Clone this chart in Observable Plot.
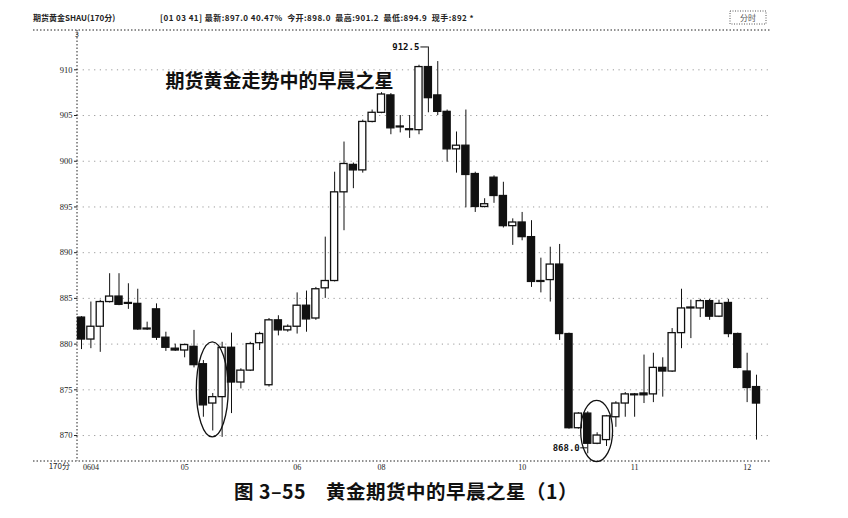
<!DOCTYPE html>
<html>
<head>
<meta charset="utf-8">
<script src="https://cdn.jsdelivr.net/npm/d3@7"></script>
<script src="https://cdn.jsdelivr.net/npm/@observablehq/plot@0.6"></script>
<style>
  html, body { margin: 0; padding: 0; background: #fff; }
  body { width: 848px; height: 518px; overflow: hidden; position: relative; font-family: "Noto Sans CJK SC", sans-serif; }
  #chart { position: absolute; left: 0; top: 0; }
  #cap { position: absolute; left: 234px; top: 476px; font-size: 19.5px; font-weight: bold; color: #111; white-space: pre; letter-spacing: 0.5px; font-family: "Noto Sans CJK SC", sans-serif; }
</style>
</head>
<body>
<div id="chart"></div>
<div id="cap">图 3–55　黄金期货中的早晨之星（1）</div>
<script>
// ---- data ----
const opens  = [882.9,880.5,881.9,884.6,885.2,884.5,884.4,881.7,883.8,880.7,879.5,879.3,879.7,877.8,873.5,874.2,879.6,875.8,877.1,880.1,875.5,882.6,881.5,881.9,884.2,882.8,886.1,886.9,896.6,899.6,899.0,904.3,905.3,907.2,903.8,903.5,903.4,910.3,907.2,905.4,901.3,901.7,898.6,895.0,898.2,896.2,892.9,893.3,891.7,886.9,887.0,888.7,881.1,870.8,872.4,869.1,869.5,872.0,873.5,874.5,874.6,874.5,877.4,877.0,881.2,884.0,883.9,884.7,883.0,884.5,881.1,877.0,875.3];
const highs  = [883.0,884.6,884.8,887.7,887.7,886.6,886.0,882.4,884.4,881.3,880.0,880.0,881.5,878.2,874.6,880.2,881.2,877.3,880.2,881.3,882.8,883.1,882.1,885.6,885.8,886.2,891.7,898.8,902.1,899.8,904.5,905.6,907.5,907.4,905.0,905.0,910.5,912.5,910.9,905.6,903.2,905.6,898.8,895.9,898.4,897.7,893.7,894.4,893.5,889.4,890.6,890.9,881.2,872.5,872.6,870.3,872.2,873.7,874.7,874.6,878.8,879.0,878.5,881.7,886.0,884.8,884.9,884.9,884.8,884.9,881.2,879.0,876.6];
const lows   = [879.4,879.5,879.1,884.5,884.2,883.8,881.5,881.5,880.4,879.2,879.2,878.5,877.4,872.0,870.5,869.8,872.4,875.1,877.0,879.3,875.3,880.9,881.3,881.1,881.3,882.6,885.0,886.8,892.4,897.0,898.7,904.2,905.2,902.9,903.1,902.5,902.9,905.3,905.0,899.9,898.7,894.9,894.4,894.9,895.4,892.7,890.8,891.3,886.2,885.6,884.6,880.4,870.7,870.7,868.0,869.0,868.8,870.9,872.0,872.0,873.5,873.6,874.2,876.9,879.5,880.6,882.9,882.6,882.9,880.7,877.3,873.6,869.5];
const closes = [880.5,881.9,884.6,885.2,884.3,884.4,881.6,881.6,880.7,879.6,879.3,879.9,877.7,873.3,874.2,879.6,875.8,877.1,880.0,881.1,882.6,881.5,881.9,884.2,882.7,886.0,886.9,896.6,899.7,899.0,904.3,905.3,907.3,903.6,903.7,903.4,910.3,906.9,905.4,901.3,901.7,898.5,895.0,895.3,896.2,892.9,893.3,891.7,886.8,886.8,888.7,881.1,870.8,872.4,869.1,870.0,872.1,873.5,874.5,874.4,874.4,877.4,877.0,881.2,883.9,883.9,884.7,883.0,884.4,881.1,877.4,875.2,873.5];

const yTicks = [870, 875, 880, 885, 890, 895, 900, 905, 910];
const xTickIndex = [1, 11, 23, 32, 47, 59, 71];
const xTickLabels = ["0604", "05", "06", "08", "10", "11", "12"];

const highMarkIndex = [37];   // 912.5
const lowMarkIndex = [54];    // 868.0

// morning-star patterns (candle index ranges and price span of the circled area)
const starFrom = [13, 54];
const starTo = [15, 56];
const starLow = [869.8, 867.1];
const starHigh = [880.2, 873.8];

const titleText = "期货黄金走势中的早晨之星";
const headerLeft = "期货黄金SHAU(170分)";
const headerMid = "[01 03 41] 最新:897.0 40.47%  今开:898.0  最高:901.2  最低:894.9  现手:892 *";
const periodLabel = "170分";

const idx = d3.range(opens.length);

// ---- custom marks ----
function decorations(index, scales, values, dims) {
  const g = d3.create("svg:g");
  const top = dims.marginTop, bottom = dims.height - dims.marginBottom;
  const left = dims.marginLeft, right = dims.width - dims.marginRight;
  g.append("line").attr("x1", 33).attr("x2", right + 2).attr("y1", top).attr("y2", top)
    .attr("stroke", "#222").attr("stroke-width", 1).attr("stroke-dasharray", "1.5 2");
  g.append("line").attr("x1", 33).attr("x2", right + 2).attr("y1", bottom).attr("y2", bottom)
    .attr("stroke", "#222").attr("stroke-width", 1).attr("stroke-dasharray", "1.5 2");
  g.append("line").attr("x1", left).attr("x2", left).attr("y1", top).attr("y2", bottom)
    .attr("stroke", "#222").attr("stroke-width", 1).attr("stroke-dasharray", "1.5 2");
  const t = g.append("g").attr("font-family", "Noto Sans CJK SC, sans-serif").attr("fill", "#222").attr("text-anchor", "start");
  t.append("text").attr("x", 33).attr("y", top - 9).attr("font-size", 8).attr("font-weight", "bold").attr("text-anchor", "start").text(headerLeft);
  t.append("text").attr("x", 160).attr("y", top - 9).attr("font-size", 8).attr("font-weight", "bold").attr("letter-spacing", "0.45px").attr("text-anchor", "start").text(headerMid);
  t.append("text").attr("x", left - 7).attr("y", bottom + 8).attr("font-size", 8).attr("text-anchor", "end").text(periodLabel);
  t.append("text").attr("x", left).attr("y", top + 7).attr("font-size", 7).attr("text-anchor", "middle").text("3");
  g.append("rect").attr("x", right - 38).attr("y", top - 19).attr("width", 36).attr("height", 13)
    .attr("fill", "none").attr("stroke", "#555").attr("stroke-dasharray", "1 1.5");
  t.append("text").attr("x", right - 20).attr("y", top - 9).attr("font-size", 8).attr("text-anchor", "middle").attr("fill", "#555").text("分时");
  return g.node();
}

function starEllipses(index, scales) {
  const g = d3.create("svg:g");
  for (let k = 0; k < starFrom.length; k++) {
    const x1 = scales.x(starFrom[k] - 0.7), x2 = scales.x(starTo[k] + 0.7);
    const y1 = scales.y(starHigh[k]), y2 = scales.y(starLow[k]);
    g.append("ellipse")
      .attr("cx", (x1 + x2) / 2).attr("cy", (y1 + y2) / 2)
      .attr("rx", Math.abs(x2 - x1) / 2).attr("ry", Math.abs(y2 - y1) / 2)
      .attr("fill", "none").attr("stroke", "#111").attr("stroke-width", 1.3);
  }
  return g.node();
}

const chart = Plot.plot({
  width: 848,
  height: 478,
  marginLeft: 77,
  marginRight: 80,
  marginTop: 30,
  marginBottom: 17,
  x: { domain: [-0.427, 73.28], axis: null },
  y: { domain: [867.16, 914.3], axis: null },
  color: { type: "identity" },
  style: { background: "white", overflow: "visible" },
  marks: [
    Plot.gridY(yTicks, { stroke: "#888", strokeOpacity: 0.85, strokeWidth: 1, strokeDasharray: "1.2 4.5" }),
    Plot.axisY(yTicks, { anchor: "left", tickSize: 3, tickPadding: 2, fontSize: 8.5, fontFamily: "Liberation Serif, serif", fill: "#222", color: "#222" }),
    Plot.axisX(xTickIndex, { anchor: "bottom", tickSize: 0, tickPadding: 3, fontSize: 8, fontFamily: "Liberation Serif, serif", fill: "#222",
      tickFormat: (d) => xTickLabels[xTickIndex.indexOf(d)] }),
    decorations,
    Plot.ruleX(idx, { x: (i) => i, y1: (i) => lows[i], y2: (i) => highs[i], stroke: "#111", strokeWidth: 1 }),
    Plot.rect(idx, {
      x1: (i) => i - 0.38, x2: (i) => i + 0.38,
      y1: (i) => opens[i], y2: (i) => closes[i],
      fill: (i) => (closes[i] > opens[i] ? "white" : "#111"),
      stroke: "#111", strokeWidth: 1.3
    }),
    Plot.ruleY(highMarkIndex, { x1: (i) => i - 0.8, x2: (i) => i, y: (i) => highs[i], stroke: "#111" }),
    Plot.text(highMarkIndex, { x: (i) => i, y: (i) => highs[i], text: (i) => highs[i].toFixed(1), textAnchor: "end", dx: -9, fontSize: 9, fontWeight: "bold", fontFamily: "DejaVu Sans Mono, monospace", fill: "#111" }),
    Plot.ruleY(lowMarkIndex, { x1: (i) => i - 0.75, x2: (i) => i, y: (i) => lows[i], dy: -6, stroke: "#111" }),
    Plot.text(lowMarkIndex, { x: (i) => i, y: (i) => lows[i], text: (i) => lows[i].toFixed(1), textAnchor: "end", dx: -8, dy: -6, fontSize: 9, fontWeight: "bold", fontFamily: "DejaVu Sans Mono, monospace", fill: "#111" }),
    Plot.text([titleText], { frameAnchor: "top-left", dx: 88, dy: 44, text: (d) => d, textAnchor: "start", fontSize: 19, fontWeight: "bold", fontFamily: "Noto Sans CJK SC, sans-serif", fill: "#111" }),
    starEllipses
  ]
});
document.getElementById("chart").appendChild(chart);
</script>
</body>
</html>
